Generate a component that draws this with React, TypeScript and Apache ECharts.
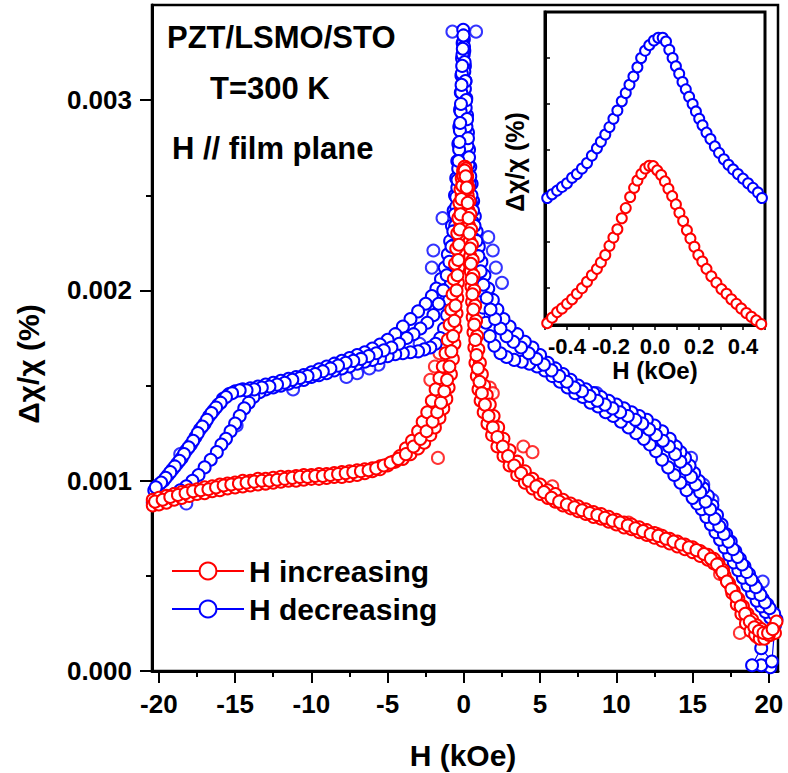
import { useEffect, useRef } from "react";
import * as echarts from "echarts";

const FONT = '"Liberation Sans", Arial, Helvetica, sans-serif';
const RED = "#ff0000";
const BLUE = "#0000ff";
const MILLI = 0.001; // values below are Δχ/χ (%) in units of 1e-3

// ---- main panel: [H (kOe), Δχ/χ ×1e-3] ----
const redSweepA: [number, number][] = [
  [-20.4,0.90],[-20,0.91],[-19.5,0.92],[-19,0.93],[-18.5,0.94],[-18,0.95],[-17.5,0.955],[-17,0.965],[-16.5,0.97],[-16,0.98],
  [-15.5,0.985],[-15,0.99],[-14.5,1.0],[-14,1.0],[-13.5,1.01],[-13,1.01],[-12.5,1.015],[-12,1.02],[-11.5,1.02],[-11,1.025],
  [-10.5,1.03],[-10,1.03],[-9.5,1.035],[-9,1.035],[-8.5,1.04],[-8,1.045],[-7.5,1.05],[-7,1.055],[-6.5,1.06],[-6,1.065],
  [-5.5,1.075],[-5,1.085],[-4.5,1.1],[-4,1.115],[-3.5,1.14],[-3,1.17],[-2.6,1.2],[-2.2,1.24],[-1.9,1.28],[-1.6,1.33],
  [-1.35,1.38],[-1.15,1.43],[-1.0,1.49],[-0.85,1.56],[-0.72,1.64],[-0.62,1.72],[-0.54,1.8],[-0.48,1.88],[-0.43,1.96],[-0.39,2.04],
  [-0.35,2.12],[-0.31,2.2],[-0.27,2.28],[-0.23,2.36],[-0.19,2.43],[-0.14,2.5],[-0.09,2.56],[-0.04,2.61],[0.02,2.64],[0.08,2.65],
  [0.14,2.62],[0.2,2.57],[0.25,2.5],[0.3,2.42],[0.34,2.34],[0.38,2.26],[0.42,2.18],[0.46,2.1],[0.5,2.02],[0.54,1.94],
  [0.58,1.86],[0.63,1.78],[0.69,1.7],[0.76,1.62],[0.85,1.55],[0.96,1.48],[1.1,1.42],[1.3,1.36],[1.55,1.3],[1.85,1.24],
  [2.2,1.18],[2.6,1.13],[3.0,1.08],[3.5,1.03],[4,0.99],[4.5,0.96],[5,0.93],[5.5,0.91],[6,0.89],[6.5,0.87],
  [7,0.855],[7.5,0.84],[8,0.825],[8.5,0.81],[9,0.8],[9.5,0.785],[10,0.77],[10.5,0.755],[11,0.745],[11.5,0.73],
  [12,0.715],[12.5,0.7],[13,0.685],[13.5,0.67],[14,0.655],[14.5,0.64],[15,0.625],[15.5,0.605],[16,0.585],[16.4,0.565],
  [16.8,0.54],[17.1,0.5],[17.4,0.46],[17.7,0.42],[18,0.38],[18.3,0.34],[18.6,0.3],[18.9,0.27],[19.2,0.24],[19.5,0.22],
  [19.8,0.2],[20.1,0.19],[20.4,0.2],
];
const redSweepB: [number, number][] = [
  [-20.4,0.87],[-20,0.875],[-19.5,0.885],[-19,0.9],[-18.5,0.91],[-18,0.92],[-17.5,0.93],[-17,0.935],[-16.5,0.945],[-16,0.95],
  [-15.5,0.96],[-15,0.965],[-14.5,0.97],[-14,0.975],[-13.5,0.98],[-13,0.985],[-12.5,0.99],[-12,0.995],[-11.5,1.0],[-11,1.0],
  [-10.5,1.005],[-10,1.01],[-9.5,1.01],[-9,1.015],[-8.5,1.02],[-8,1.02],[-7.5,1.025],[-7,1.03],[-6.5,1.04],[-6,1.05],
  [-5.5,1.06],[-5,1.08],[-4.6,1.1],[-4.2,1.13],[-3.8,1.17],[-3.4,1.21],[-3.0,1.26],[-2.7,1.31],[-2.4,1.36],[-2.1,1.42],
  [-1.85,1.48],[-1.6,1.54],[-1.38,1.6],[-1.2,1.67],[-1.05,1.74],[-0.93,1.82],[-0.83,1.9],[-0.74,1.98],[-0.66,2.06],[-0.58,2.14],
  [-0.5,2.22],[-0.43,2.3],[-0.36,2.38],[-0.29,2.46],[-0.22,2.53],[-0.14,2.59],[-0.05,2.63],[0.04,2.65],[0.13,2.64],[0.22,2.6],
  [0.3,2.54],[0.37,2.47],[0.43,2.4],[0.48,2.32],[0.53,2.24],[0.58,2.16],[0.63,2.08],[0.68,2.0],[0.74,1.92],[0.8,1.84],
  [0.87,1.76],[0.95,1.69],[1.05,1.62],[1.18,1.56],[1.33,1.5],[1.5,1.45],[1.7,1.4],[1.95,1.34],[2.25,1.28],[2.6,1.22],
  [3,1.16],[3.5,1.1],[4,1.05],[4.5,1.01],[5,0.98],[5.5,0.95],[6,0.93],[6.5,0.9],[7,0.88],[7.5,0.865],
  [8,0.85],[8.5,0.835],[9,0.825],[9.5,0.81],[10,0.795],[10.5,0.78],[11,0.77],[11.5,0.755],[12,0.74],[12.5,0.725],
  [13,0.71],[13.5,0.695],[14,0.68],[14.5,0.665],[15,0.65],[15.5,0.63],[16,0.61],[16.4,0.59],[16.7,0.565],[17,0.53],
  [17.3,0.47],[17.6,0.41],[17.9,0.35],[18.2,0.3],[18.5,0.25],[18.8,0.21],[19.1,0.19],[19.4,0.17],[19.7,0.17],[20,0.19],
  [20.3,0.23],[20.5,0.26],
];
const redSweepC: [number, number][] = [
  [-20.25,0.89],[-19.75,0.9],[-19.25,0.915],[-18.75,0.925],[-18.25,0.935],[-17.75,0.945],[-17.25,0.95],[-16.75,0.955],[-16.25,0.965],[-15.75,0.975],
  [-15.25,0.98],[-14.75,0.985],[-14.25,0.99],[-13.75,0.995],[-13.25,1.0],[-12.75,1.0],[-12.25,1.005],[-11.75,1.01],[-11.25,1.015],[-10.75,1.02],
  [-10.25,1.02],[-9.75,1.025],[-9.25,1.025],[-8.75,1.03],[-8.25,1.035],[-7.75,1.04],[-7.25,1.045],[-6.75,1.05],[-6.25,1.055],[-5.75,1.065],
  [-5.25,1.08],[-4.8,1.095],[-4.3,1.115],[-3.8,1.14],[-3.3,1.18],[-2.85,1.22],[-2.45,1.26],[-2.05,1.31],[-1.75,1.36],[-1.5,1.41],
  [-1.28,1.47],[-1.1,1.53],[-0.95,1.6],[-0.82,1.68],[-0.71,1.76],[-0.62,1.84],[-0.55,1.92],[-0.48,2.0],[-0.42,2.08],[-0.37,2.16],
  [-0.32,2.24],[-0.27,2.32],[-0.22,2.4],[-0.16,2.48],[-0.1,2.55],[-0.03,2.6],[0.05,2.63],[0.12,2.6],[0.19,2.54],[0.25,2.46],
  [0.31,2.38],[0.36,2.3],[0.41,2.22],[0.46,2.14],[0.51,2.06],[0.56,1.98],[0.62,1.9],[0.68,1.82],[0.75,1.74],[0.83,1.66],
  [0.92,1.59],[1.03,1.52],[1.18,1.46],[1.38,1.4],[1.62,1.34],[1.9,1.28],[2.2,1.23],[2.55,1.18],[2.9,1.13],[3.3,1.08],
  [3.75,1.04],[4.25,1.0],[4.75,0.97],[5.25,0.94],[5.75,0.91],[6.25,0.89],[6.75,0.875],[7.25,0.86],[7.75,0.845],[8.25,0.83],
  [8.75,0.82],[9.25,0.805],[9.75,0.79],[10.25,0.78],[10.75,0.765],[11.25,0.75],[11.75,0.735],[12.25,0.72],[12.75,0.71],[13.25,0.695],
  [13.75,0.68],[14.25,0.665],[14.75,0.65],[15.25,0.635],[15.75,0.615],[16.2,0.59],[16.6,0.56],[16.95,0.52],[17.25,0.47],[17.55,0.43],
  [17.85,0.39],[18.15,0.34],[18.45,0.3],[18.75,0.26],[19.05,0.23],[19.35,0.21],[19.65,0.2],[19.95,0.2],[20.25,0.22],
];
const redStray: [number, number][] = [
  [-1.6,1.67],[-2.2,1.53],[-1.7,1.12],[-1.9,1.6],[1.7,1.49],[1.9,1.46],[3.9,1.18],[4.5,1.15],[5.8,0.97],[9.1,0.81],
  [10.8,0.78],[12.7,0.72],[16.8,0.51],[18.1,0.2],[19.2,0.18],
];

const blueSweepA: [number, number][] = [
  [20.5,0.27],[20.2,0.31],[19.9,0.35],[19.6,0.38],[19.3,0.42],[19.0,0.46],[18.7,0.51],[18.4,0.55],[18.1,0.59],[17.8,0.63],
  [17.5,0.68],[17.2,0.72],[16.9,0.77],[16.6,0.82],[16.3,0.87],[16.0,0.92],[15.7,0.96],[15.4,1.0],[15.1,1.04],[14.8,1.08],
  [14.5,1.12],[14.2,1.15],[13.9,1.18],[13.5,1.22],[13.0,1.26],[12.5,1.29],[12.0,1.32],[11.5,1.34],[11.0,1.36],[10.5,1.38],
  [10.0,1.4],[9.5,1.42],[9.0,1.44],[8.5,1.46],[8.0,1.48],[7.5,1.5],[7.0,1.53],[6.5,1.56],[6.0,1.59],[5.5,1.62],
  [5.0,1.66],[4.5,1.7],[4.0,1.73],[3.5,1.77],[3.0,1.81],[2.6,1.85],[2.2,1.9],[1.9,1.95],[1.6,2.01],[1.35,2.08],
  [1.15,2.15],[0.98,2.23],[0.84,2.31],[0.72,2.39],[0.61,2.47],[0.51,2.56],[0.42,2.65],[0.34,2.74],[0.27,2.83],[0.21,2.92],
  [0.16,3.01],[0.11,3.1],[0.07,3.18],[0.03,3.26],[0.0,3.32],[-0.04,3.37],[-0.08,3.3],[-0.12,3.22],[-0.16,3.13],[-0.2,3.04],
  [-0.25,2.95],[-0.3,2.86],[-0.36,2.77],[-0.43,2.68],[-0.5,2.59],[-0.58,2.5],[-0.67,2.42],[-0.78,2.34],[-0.9,2.26],[-1.05,2.19],
  [-1.25,2.12],[-1.5,2.06],[-1.8,2.01],[-2.1,1.97],[-2.5,1.93],[-3.0,1.89],[-3.5,1.85],[-4.0,1.81],[-4.5,1.77],[-5.0,1.74],
  [-5.5,1.715],[-6.0,1.695],[-6.5,1.675],[-7,1.66],[-7.5,1.645],[-8,1.63],[-8.5,1.615],[-9,1.6],[-9.5,1.585],[-10,1.57],
  [-10.5,1.555],[-11,1.545],[-11.5,1.535],[-12,1.525],[-12.5,1.515],[-13,1.505],[-13.5,1.495],[-14,1.485],[-14.5,1.48],[-15,1.47],
  [-15.4,1.455],[-15.8,1.43],[-16.1,1.4],[-16.4,1.37],[-16.7,1.34],[-17.0,1.3],[-17.3,1.27],[-17.6,1.23],[-17.9,1.19],[-18.2,1.16],
  [-18.5,1.12],[-18.8,1.09],[-19.1,1.06],[-19.4,1.03],[-19.7,1.0],[-20.0,0.98],[-20.3,0.95],
];
const blueSweepB: [number, number][] = [
  [20.1,0.02],[19.5,0.03],[18.9,0.03],[19.5,0.12],[20.2,0.05],[20.4,0.24],[20.1,0.28],[19.8,0.31],[19.5,0.34],[19.2,0.37],
  [18.9,0.41],[18.6,0.45],[18.3,0.49],[18.0,0.53],[17.7,0.57],[17.4,0.61],[17.1,0.65],[16.8,0.69],[16.5,0.73],[16.2,0.77],
  [15.9,0.81],[15.6,0.85],[15.3,0.88],[15.0,0.91],[14.6,0.95],[14.2,0.99],[13.8,1.03],[13.4,1.07],[13.0,1.11],[12.6,1.155],
  [12.2,1.19],[11.8,1.22],[11.3,1.25],[10.8,1.28],[10.3,1.31],[9.8,1.34],[9.3,1.36],[8.8,1.39],[8.3,1.41],[7.8,1.44],
  [7.3,1.46],[6.8,1.49],[6.3,1.52],[5.8,1.55],[5.3,1.58],[4.8,1.6],[4.3,1.615],[3.8,1.625],[3.3,1.635],[2.8,1.65],
  [2.4,1.67],[2.0,1.71],[1.7,1.76],[1.45,1.83],[1.25,1.91],[1.08,2.0],[0.93,2.09],[0.8,2.18],[0.68,2.27],[0.57,2.36],
  [0.47,2.46],[0.38,2.56],[0.3,2.66],[0.23,2.76],[0.17,2.86],[0.12,2.96],[0.07,3.06],[0.03,3.15],[-0.01,3.24],[-0.05,3.3],
  [-0.09,3.24],[-0.13,3.14],[-0.17,3.04],[-0.21,2.94],[-0.26,2.84],[-0.31,2.74],[-0.37,2.64],[-0.43,2.54],[-0.5,2.44],[-0.57,2.34],
  [-0.65,2.24],[-0.74,2.14],[-0.84,2.04],[-0.96,1.95],[-1.1,1.87],[-1.3,1.8],[-1.55,1.75],[-1.85,1.72],[-2.2,1.7],[-2.6,1.69],
  [-3.0,1.68],[-3.5,1.675],[-4.0,1.67],[-4.5,1.665],[-5.0,1.655],[-5.5,1.645],[-6.0,1.635],[-6.5,1.625],[-7.0,1.615],[-7.5,1.6],
  [-8.0,1.59],[-8.5,1.58],[-9.0,1.565],[-9.5,1.555],[-10,1.545],[-10.5,1.53],[-11,1.52],[-11.5,1.51],[-12,1.5],[-12.5,1.49],
  [-13,1.48],[-13.4,1.465],[-13.8,1.44],[-14.1,1.41],[-14.4,1.38],[-14.7,1.34],[-15.0,1.3],[-15.3,1.26],[-15.6,1.22],[-15.9,1.19],
  [-16.2,1.15],[-16.6,1.11],[-17.0,1.07],[-17.4,1.03],[-17.8,1.0],[-18.2,0.97],[-18.6,0.95],[-19.0,0.93],[-19.4,0.915],[-19.8,0.9],
  [-20.2,0.89],[-20.4,0.885],
];
const blueSweepC: [number, number][] = [
  [20.35,0.3],[20.05,0.33],[19.75,0.36],[19.45,0.4],[19.15,0.44],[18.85,0.48],[18.55,0.52],[18.25,0.56],[17.95,0.6],[17.65,0.64],
  [17.35,0.68],[17.05,0.72],[16.75,0.76],[16.45,0.8],[16.15,0.85],[15.85,0.89],[15.5,0.94],[15.2,0.98],[14.9,1.02],[14.55,1.06],
  [14.2,1.1],[13.85,1.14],[13.45,1.18],[13.05,1.21],[12.6,1.24],[12.15,1.27],[11.7,1.3],[11.25,1.32],[10.75,1.34],[10.25,1.36],
  [9.75,1.38],[9.25,1.4],[8.75,1.42],[8.25,1.445],[7.75,1.47],[7.25,1.49],[6.75,1.52],[6.25,1.55],[5.75,1.58],[5.25,1.61],
  [4.75,1.64],[4.25,1.67],[3.75,1.7],[3.25,1.73],[2.8,1.76],[2.4,1.8],[2.05,1.85],[1.75,1.9],[1.5,1.96],[1.28,2.03],
  [1.1,2.1],[0.95,2.18],[0.82,2.26],[0.7,2.34],[0.6,2.42],[0.5,2.5],[0.42,2.6],[0.34,2.7],[0.27,2.8],[0.21,2.9],
  [0.15,3.0],[0.1,3.1],[0.05,3.2],[0.01,3.28],[-0.03,3.34],[-0.07,3.27],[-0.11,3.18],[-0.15,3.08],[-0.19,2.98],[-0.24,2.88],
  [-0.29,2.78],[-0.35,2.68],[-0.42,2.58],[-0.5,2.49],[-0.59,2.4],[-0.69,2.31],[-0.81,2.23],[-0.95,2.15],[-1.12,2.08],[-1.35,2.0],
  [-1.65,1.93],[-2.0,1.87],[-2.4,1.83],[-2.85,1.8],[-3.3,1.77],[-3.75,1.75],[-4.25,1.72],[-4.75,1.7],[-5.25,1.685],[-5.75,1.67],
  [-6.25,1.655],[-6.75,1.64],[-7.25,1.63],[-7.75,1.62],[-8.25,1.605],[-8.75,1.59],[-9.25,1.575],[-9.75,1.56],[-10.25,1.55],[-10.75,1.54],
  [-11.25,1.53],[-11.75,1.515],[-12.25,1.505],[-12.75,1.495],[-13.25,1.49],[-13.75,1.48],[-14.25,1.475],[-14.7,1.475],[-15.2,1.46],[-15.6,1.44],
  [-15.95,1.41],[-16.25,1.385],[-16.55,1.355],[-16.85,1.32],[-17.15,1.285],[-17.45,1.25],[-17.75,1.21],[-18.05,1.175],[-18.35,1.14],[-18.65,1.105],
  [-18.95,1.075],[-19.25,1.045],[-19.55,1.015],[-19.85,0.99],[-20.2,0.965],
];
const blueStray: [number, number][] = [
  [-0.75,3.36],[0.8,3.36],[-1.4,2.38],[1.6,2.28],[1.9,2.21],[2.1,2.12],[2.5,2.04],[-2.0,2.21],[-2.1,2.12],[-2.9,1.72],
  [-5.6,1.61],[-6.2,1.59],[-7.0,1.565],[-7.7,1.545],[-11.2,1.48],[-14.9,1.29],[-18.2,0.88],[-18.6,1.14],[8.7,1.46],[10.4,1.37],
  [13.7,1.19],[14.9,1.12],[15.7,0.98],[16.3,0.9],[19.6,0.47],
];

// ---- inset (low field): [H (kOe), Δχ/χ ×1e-3] ----
const insetBlue: [number, number][] = [
  [-0.490,2.44],[-0.468,2.46],[-0.445,2.48],[-0.423,2.50],[-0.400,2.52],[-0.377,2.55],[-0.355,2.57],[-0.332,2.60],[-0.309,2.63],[-0.287,2.67],
  [-0.264,2.71],[-0.246,2.745],[-0.226,2.785],[-0.207,2.825],[-0.189,2.87],[-0.171,2.915],[-0.151,2.965],[-0.133,3.01],[-0.116,3.055],[-0.098,3.10],
  [-0.080,3.15],[-0.063,3.20],[-0.045,3.24],[-0.026,3.27],[-0.005,3.295],[0.015,3.31],[0.035,3.31],[0.050,3.29],[0.065,3.245],[0.080,3.2],
  [0.095,3.155],[0.110,3.115],[0.125,3.07],[0.140,3.03],[0.155,2.99],[0.171,2.95],[0.186,2.91],[0.201,2.87],[0.216,2.835],[0.234,2.795],
  [0.252,2.76],[0.272,2.72],[0.291,2.685],[0.313,2.65],[0.334,2.62],[0.355,2.595],[0.377,2.57],[0.400,2.545],[0.423,2.52],[0.445,2.495],
  [0.468,2.47],[0.486,2.44],
];
const insetRed: [number, number][] = [
  [-0.490,1.76],[-0.468,1.79],[-0.445,1.82],[-0.423,1.84],[-0.400,1.865],[-0.377,1.89],[-0.355,1.92],[-0.332,1.95],[-0.309,1.985],[-0.287,2.02],
  [-0.264,2.055],[-0.246,2.09],[-0.226,2.13],[-0.207,2.18],[-0.189,2.225],[-0.171,2.27],[-0.151,2.33],[-0.133,2.385],[-0.113,2.445],[-0.095,2.495],
  [-0.080,2.535],[-0.062,2.57],[-0.044,2.6],[-0.026,2.615],[-0.008,2.613],[0.010,2.59],[0.028,2.565],[0.045,2.53],[0.061,2.49],[0.078,2.45],
  [0.095,2.405],[0.111,2.36],[0.128,2.315],[0.145,2.265],[0.161,2.22],[0.179,2.175],[0.197,2.13],[0.215,2.095],[0.234,2.055],[0.256,2.015],
  [0.279,1.98],[0.302,1.945],[0.325,1.92],[0.347,1.89],[0.370,1.865],[0.392,1.84],[0.415,1.815],[0.438,1.795],[0.460,1.775],[0.483,1.755],
];

// ---- ticks ----
const mainXTicks = [-20, -15, -10, -5, 0, 5, 10, 15, 20];
const mainXMinor = [-17.5, -12.5, -7.5, -2.5, 2.5, 7.5, 12.5, 17.5];
const mainYTicks = [0, 0.001, 0.002, 0.003];
const mainYMinor = [0.0005, 0.0015, 0.0025];
const insetXTicks = [-0.5, -0.4, -0.3, -0.2, -0.1, 0, 0.1, 0.2, 0.3, 0.4, 0.5];
const insetXLabels = [-0.4, -0.2, 0, 0.2, 0.4];
const insetYTicks = [0.00195, 0.0022, 0.00245, 0.0027, 0.00295, 0.0032];

const toPts = (arr: [number, number][]) => arr.map(([h, v]) => [h, v * MILLI]);

const boldText = (size: number) => ({
  fontSize: size,
  fontWeight: "bold" as const,
  fontFamily: FONT,
  color: "#000",
});

function lineSeries(name: string, data: [number, number][], color: string, xi: number, yi: number, size: number) {
  return {
    type: "line",
    name,
    xAxisIndex: xi,
    yAxisIndex: yi,
    data: toPts(data),
    symbol: "emptyCircle",
    symbolSize: size,
    showAllSymbol: true,
    lineStyle: { color, width: 1.2 },
    itemStyle: { color, borderColor: color, borderWidth: 1.1 },
    emphasis: { disabled: true },
    silent: true,
  };
}

function strayScatter(name: string, data: [number, number][], color: string) {
  return {
    type: "scatter",
    name,
    xAxisIndex: 0,
    yAxisIndex: 0,
    data: toPts(data),
    symbol: "emptyCircle",
    symbolSize: 12,
    itemStyle: { color, borderColor: color, borderWidth: 1.1 },
    silent: true,
  };
}

const txt = (text: string, x: number, y: number, size: number, align: string, rotation = 0) => ({
  type: "text",
  x,
  y,
  rotation,
  z: 10,
  style: { text, font: `bold ${size}px ${FONT}`, fill: "#000", align, verticalAlign: "middle" },
});

function buildOption() {
  return {
    animation: false,
    backgroundColor: "#fff",
    grid: [
      { left: 152, right: 10, top: 5, bottom: 102, show: true, borderColor: "#000", borderWidth: 2.5, backgroundColor: "transparent" },
      { left: 545, top: 12, width: 220, height: 313, show: true, borderColor: "#000", borderWidth: 3, backgroundColor: "#fff", z: 5 },
    ],
    legend: {
      data: ["H increasing", "H decreasing"],
      orient: "vertical",
      left: 166,
      top: 551,
      itemWidth: 72,
      itemHeight: 21,
      itemGap: 8,
      lineStyle: { width: 2 },
      textStyle: { ...boldText(30), lineHeight: 30 },
      selectedMode: false,
    },
    xAxis: [
      {
        type: "value", gridIndex: 0, min: -20.45, max: 20.6,
        axisLine: { onZero: false, lineStyle: { color: "#000", width: 3 } },
        axisTick: { customValues: mainXTicks, length: 12, lineStyle: { color: "#000", width: 2 } },
        axisLabel: { customValues: mainXTicks, margin: 20, ...boldText(26) },
        splitLine: { show: false },
      },
      {
        type: "value", gridIndex: 0, min: -20.45, max: 20.6, position: "bottom",
        axisLine: { show: false, onZero: false },
        axisTick: { customValues: mainXMinor, length: 6, lineStyle: { color: "#000", width: 2 } },
        axisLabel: { show: false },
        splitLine: { show: false },
      },
      {
        type: "value", gridIndex: 1, min: -0.5, max: 0.5,
        axisLine: { onZero: false, lineStyle: { color: "#000", width: 3 } },
        axisTick: { customValues: insetXTicks, length: 5, lineStyle: { color: "#000", width: 1.5 } },
        axisLabel: {
          customValues: insetXLabels, margin: 10, ...boldText(22),
          formatter: (v: number) => (Math.abs(v) < 1e-9 ? "0.0" : v.toFixed(1)),
        },
        splitLine: { show: false },
        z: 6,
      },
    ],
    yAxis: [
      {
        type: "value", gridIndex: 0, min: 0, max: 0.0035,
        axisLine: { onZero: false, lineStyle: { color: "#000", width: 3 } },
        axisTick: { customValues: mainYTicks, length: 12, lineStyle: { color: "#000", width: 2 } },
        axisLabel: { customValues: mainYTicks, margin: 20, ...boldText(26), formatter: (v: number) => v.toFixed(3) },
        splitLine: { show: false },
      },
      {
        type: "value", gridIndex: 0, min: 0, max: 0.0035, position: "left",
        axisLine: { show: false, onZero: false },
        axisTick: { customValues: mainYMinor, length: 6, lineStyle: { color: "#000", width: 2 } },
        axisLabel: { show: false },
        splitLine: { show: false },
      },
      {
        type: "value", gridIndex: 1, min: 0.00175, max: 0.00345,
        axisLine: { onZero: false, lineStyle: { color: "#000", width: 3 } },
        axisTick: { inside: true, customValues: insetYTicks, length: 5, lineStyle: { color: "#000", width: 1.5 } },
        axisLabel: { show: false },
        splitLine: { show: false },
        z: 6,
      },
    ],
    series: [
      lineSeries("H decreasing", blueSweepA, BLUE, 0, 0, 12),
      lineSeries("H decreasing", blueSweepB, BLUE, 0, 0, 12),
      lineSeries("H decreasing", blueSweepC, BLUE, 0, 0, 12),
      strayScatter("blue stray", blueStray, BLUE),
      lineSeries("H increasing", redSweepA, RED, 0, 0, 12),
      lineSeries("H increasing", redSweepB, RED, 0, 0, 12),
      lineSeries("H increasing", redSweepC, RED, 0, 0, 12),
      strayScatter("red stray", redStray, RED),
      { ...lineSeries("inset blue", insetBlue, BLUE, 2, 2, 10), z: 7 },
      { ...lineSeries("inset red", insetRed, RED, 2, 2, 10), z: 7 },
    ],
    graphic: [
      txt("PZT/LSMO/STO", 167, 37, 31, "left"),
      txt("T=300 K", 210, 88, 31, "left"),
      txt("H // film plane", 172, 148, 31, "left"),
      txt("Δχ/χ (%)", 28, 364, 30, "center", Math.PI / 2),
      txt("H (kOe)", 463, 755, 30, "center"),
      txt("H (kOe)", 655, 370, 24, "center"),
      txt("Δχ/χ (%)", 515, 162, 25, "center", Math.PI / 2),
    ],
  };
}

export default function App() {
  const ref = useRef<HTMLDivElement>(null);
  useEffect(() => {
    if (!ref.current) return;
    const chart = echarts.init(ref.current, null, { renderer: "svg" });
    chart.setOption(buildOption() as any);
    return () => chart.dispose();
  }, []);
  return (
    <div
      ref={ref}
      style={{ position: "fixed", left: 0, top: 0, width: 788, height: 773, background: "#fff" }}
    />
  );
}
